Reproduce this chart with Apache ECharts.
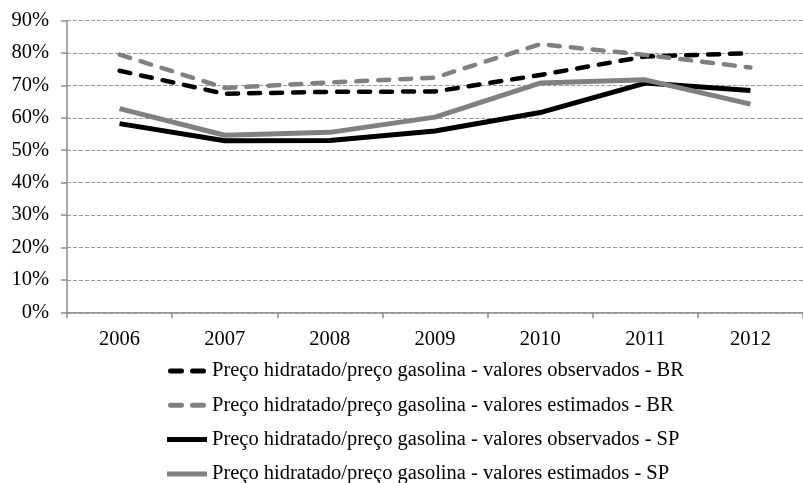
<!DOCTYPE html>
<html>
<head>
<meta charset="utf-8">
<script src="https://cdn.jsdelivr.net/npm/echarts@6/dist/echarts.min.js"></script>
<style>
  html, body { margin: 0; padding: 0; background: #fff; }
  #chart { width: 803px; height: 483px; }
</style>
</head>
<body>
<div id="chart"></div>
<script>
// Years on the category axis
const years = ['2006', '2007', '2008', '2009', '2010', '2011', '2012'];

// Hydrous ethanol / gasoline price ratio, in percent
const observadosBR = [74.5, 67.4, 68.0, 68.1, 73.2, 78.9, 79.9];
const estimadosBR  = [79.5, 69.2, 70.9, 72.4, 82.7, 79.4, 75.5];
const observadosSP = [58.2, 52.9, 53.0, 55.9, 61.6, 70.7, 68.4];
const estimadosSP  = [62.8, 54.6, 55.5, 60.2, 70.7, 71.7, 64.2];

const seriesNames = [
  'Preço hidratado/preço gasolina - valores observados - BR',
  'Preço hidratado/preço gasolina - valores estimados - BR',
  'Preço hidratado/preço gasolina - valores observados - SP',
  'Preço hidratado/preço gasolina - valores estimados - SP'
];

const FONT = '"Liberation Serif", "Times New Roman", serif';
const FONT_SIZE = 20.5;
const BLACK = '#000000';
const GRAY = '#808080';
const AXIS = '#8c8c8c';

// Legend keys: two rounded dashes, or one solid bar
const ICON_DASHED = 'path://M2.5,0 H13.5 A2.5,2.5 0 0 1 13.5,5 H2.5 A2.5,2.5 0 0 1 2.5,0 Z ' +
                    'M24.5,0 H35.5 A2.5,2.5 0 0 1 35.5,5 H24.5 A2.5,2.5 0 0 1 24.5,0 Z';
const ICON_SOLID = 'path://M0,0 H40 V5 H0 Z';

function lineSeries(name, data, color, dashed) {
  return {
    name: name,
    type: 'line',
    data: data,
    symbol: 'none',
    showSymbol: false,
    animation: false,
    lineStyle: {
      color: color,
      width: dashed ? 4.5 : 5,
      type: dashed ? [11, 11] : 'solid',
      cap: dashed ? 'round' : 'butt',
      join: 'round'
    },
    itemStyle: { color: color }
  };
}

const chart = echarts.init(document.getElementById('chart'), null, { renderer: 'canvas' });
chart.setOption({
  animation: false,
  backgroundColor: '#ffffff',
  grid: { left: 67, right: -11, top: 20.5, bottom: 170.7, containLabel: false },
  xAxis: {
    type: 'category',
    data: years,
    boundaryGap: true,
    axisLine: { lineStyle: { color: AXIS, width: 1.5 } },
    axisTick: { show: true, length: 6, alignWithLabel: false, lineStyle: { color: AXIS, width: 1.5 } },
    axisLabel: { color: '#000', fontFamily: FONT, fontSize: FONT_SIZE, margin: 17 },
    splitLine: { show: false }
  },
  yAxis: {
    type: 'value',
    min: 0,
    max: 90,
    interval: 10,
    axisLine: { show: true, lineStyle: { color: AXIS, width: 1.5 } },
    axisTick: { show: true, length: 6, lineStyle: { color: AXIS, width: 1.5 } },
    axisLabel: { color: '#000', fontFamily: FONT, fontSize: FONT_SIZE, margin: 18, formatter: '{value}%' },
    splitLine: { show: true, lineStyle: { color: '#999999', width: 1, type: [4, 2] } }
  },
  legend: {
    orient: 'vertical',
    left: 167,
    top: 360.5,
    height: 200,
    itemWidth: 40,
    itemHeight: 5,
    itemGap: 13.3,
    padding: 0,
    textStyle: { color: '#000', fontFamily: FONT, fontSize: FONT_SIZE, lineHeight: 21 },
    data: [
      { name: seriesNames[0], icon: ICON_DASHED },
      { name: seriesNames[1], icon: ICON_DASHED },
      { name: seriesNames[2], icon: ICON_SOLID },
      { name: seriesNames[3], icon: ICON_SOLID }
    ]
  },
  series: [
    lineSeries(seriesNames[0], observadosBR, BLACK, true),
    lineSeries(seriesNames[1], estimadosBR, GRAY, true),
    lineSeries(seriesNames[2], observadosSP, BLACK, false),
    lineSeries(seriesNames[3], estimadosSP, GRAY, false)
  ]
});
</script>
</body>
</html>
